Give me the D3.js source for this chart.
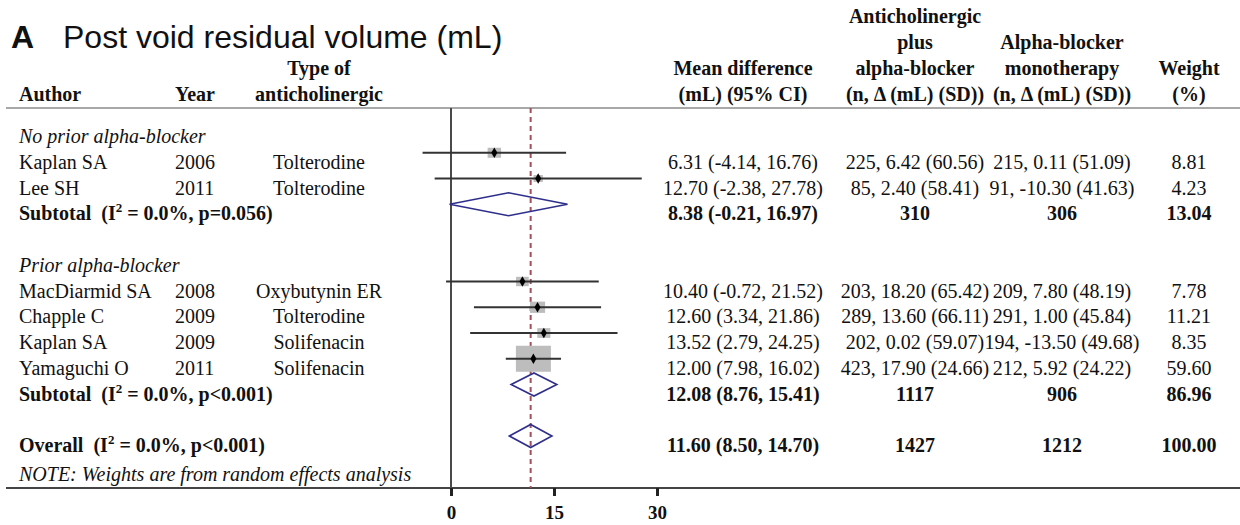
<!DOCTYPE html>
<html>
<head>
<meta charset="utf-8">
<script src="https://cdnjs.cloudflare.com/ajax/libs/d3/7.8.5/d3.min.js"></script>
<style>
  body { margin: 0; background: #fff; }
  svg text { font-family: "Liberation Serif", "Times New Roman", serif; fill: #111; white-space: pre; }
</style>
</head>
<body>
<svg id="chart" width="1240" height="525"></svg>
<script>
// individual studies
const authors = ["Kaplan SA", "Lee SH", "MacDiarmid SA", "Chapple C", "Kaplan SA", "Yamaguchi O"];
const years = [2006, 2011, 2008, 2009, 2009, 2011];
const drugs = ["Tolterodine", "Tolterodine", "Oxybutynin ER", "Tolterodine", "Solifenacin", "Solifenacin"];
const studyGroup = [0, 0, 1, 1, 1, 1];
const meanDiff = [6.31, 12.70, 10.40, 12.60, 13.52, 12.00];
const ciLow = [-4.14, -2.38, -0.72, 3.34, 2.79, 7.98];
const ciHigh = [16.76, 27.78, 21.52, 21.86, 24.25, 16.02];
const comboN = [225, 85, 203, 289, 202, 423];
const comboDelta = [6.42, 2.40, 18.20, 13.60, 0.02, 17.90];
const comboSD = [60.56, 58.41, 65.42, 66.11, 59.07, 24.66];
const monoN = [215, 91, 209, 291, 194, 212];
const monoDelta = [0.11, -10.30, 7.80, 1.00, -13.50, 5.92];
const monoSD = [51.09, 41.63, 48.19, 45.84, 49.68, 24.22];
const weights = [8.81, 4.23, 7.78, 11.21, 8.35, 59.60];

// subgroups and overall
const groupNames = ["No prior alpha-blocker", "Prior alpha-blocker"];
const poolLabels = ["Subtotal", "Subtotal", "Overall"];
const poolI2 = ["0.0%", "0.0%", "0.0%"];
const poolP = ["p=0.056", "p<0.001", "p<0.001"];
const poolMD = [8.38, 12.08, 11.60];
const poolLow = [-0.21, 8.76, 8.50];
const poolHigh = [16.97, 15.41, 14.70];
const poolComboN = [310, 1117, 1427];
const poolMonoN = [306, 906, 1212];
const poolWeight = [13.04, 86.96, 100.00];

const xTicks = [0, 15, 30];
const headerLines = [
  ["Author"],
  ["Year"],
  ["Type of", "anticholinergic"],
  ["Mean difference", "(mL) (95% CI)"],
  ["Anticholinergic", "plus", "alpha-blocker", "(n, \u0394 (mL) (SD))"],
  ["Alpha-blocker", "monotherapy", "(n, \u0394 (mL) (SD))"],
  ["Weight", "(%)"]
];
const note = "NOTE: Weights are from random effects analysis";

// layout
const colX = [19, 175, 319, 743, 915, 1062, 1189];
const colAnchor = ["start", "start", "middle", "middle", "middle", "middle", "middle"];
const headerY = 101, headerStep = 26;
const topLineY = 108, axisY = 488;

const svg = d3.select('#chart');
svg.append('rect').attr('width', 1240).attr('height', 525).attr('fill', '#fff');

const f2 = v => v.toFixed(2);

// rows: group label, studies, subtotal, blank ... overall
const rows = [];
groupNames.forEach((g, gi) => {
  rows.push({ type: 'group', label: g });
  authors.forEach((a, i) => { if (studyGroup[i] === gi) rows.push({ type: 'study', i }); });
  rows.push({ type: 'pool', i: gi });
  rows.push({ type: 'blank' });
});
rows.push({ type: 'pool', i: 2 });

const yRow = d3.scaleLinear().domain([0, rows.length - 1]).range([136, 445]);
const markOffset = -9;

const x = d3.scaleLinear().domain([0, 30]).range([451, 657]);
const boxW = d3.scaleSqrt().domain([0, 59.6]).range([0, 35]);
const boxH = d3.scaleSqrt().domain([0, 59.6]).range([0, 26]);

// title
svg.append('text').attr('x', 11).attr('y', 48)
  .style('font-family', '"Liberation Sans", Arial, sans-serif')
  .attr('font-size', 32).attr('font-weight', 'bold').text('A');
svg.append('text').attr('x', 63).attr('y', 48)
  .style('font-family', '"Liberation Sans", Arial, sans-serif')
  .attr('font-size', 32).text('Post void residual volume (mL)');

// headers
headerLines.forEach((lines, c) => {
  lines.forEach((ln, k) => {
    svg.append('text')
      .attr('x', colX[c]).attr('y', headerY - headerStep * (lines.length - 1 - k))
      .attr('text-anchor', colAnchor[c])
      .attr('font-size', 20).attr('font-weight', 'bold')
      .text(ln);
  });
});

// frame lines
svg.append('line').attr('x1', 6).attr('x2', 1240).attr('y1', topLineY).attr('y2', topLineY)
  .attr('stroke', '#a8a8a8').attr('stroke-width', 2);
svg.append('line').attr('x1', 6).attr('x2', 1240).attr('y1', axisY).attr('y2', axisY)
  .attr('stroke', '#444').attr('stroke-width', 2);

// null line
svg.append('line').attr('x1', x(0)).attr('x2', x(0)).attr('y1', topLineY).attr('y2', axisY)
  .attr('stroke', '#4a4a4a').attr('stroke-width', 2);

// overall effect dashed line
svg.append('line')
  .attr('x1', x(poolMD[2])).attr('x2', x(poolMD[2])).attr('y1', topLineY).attr('y2', axisY)
  .attr('stroke', '#a3505c').attr('stroke-width', 2).attr('stroke-dasharray', '5,4');

const plot = svg.append('g');

// table text + marks
rows.forEach((r, ri) => {
  const ty = yRow(ri) + 7;
  const my = yRow(ri) + markOffset;
  if (r.type === 'group') {
    svg.append('text').attr('x', colX[0]).attr('y', ty)
      .attr('font-size', 20).attr('font-style', 'italic').text(r.label);
  } else if (r.type === 'study') {
    const i = r.i;
    const cells = [authors[i], String(years[i]), drugs[i],
      `${f2(meanDiff[i])} (${f2(ciLow[i])}, ${f2(ciHigh[i])})`,
      `${comboN[i]}, ${f2(comboDelta[i])} (${f2(comboSD[i])})`,
      `${monoN[i]}, ${f2(monoDelta[i])} (${f2(monoSD[i])})`,
      f2(weights[i])];
    cells.forEach((t, c) => {
      svg.append('text').attr('x', colX[c]).attr('y', ty)
        .attr('text-anchor', colAnchor[c]).attr('font-size', 20).text(t);
    });
    const w = boxW(weights[i]), h = boxH(weights[i]);
    plot.append('rect')
      .attr('x', x(meanDiff[i]) - w / 2).attr('y', my - h / 2)
      .attr('width', w).attr('height', h).attr('fill', '#bdbdbd');
    plot.append('line')
      .attr('x1', x(ciLow[i])).attr('x2', x(ciHigh[i])).attr('y1', my).attr('y2', my)
      .attr('stroke', '#333').attr('stroke-width', 2);
    plot.append('path')
      .attr('transform', `translate(${x(meanDiff[i])},${my})`)
      .attr('d', d3.symbol(d3.symbolDiamond).size(32)())
      .attr('fill', '#000');
  } else if (r.type === 'pool') {
    const i = r.i;
    const lab = svg.append('text').attr('x', colX[0]).attr('y', ty)
      .attr('font-size', 20).attr('font-weight', 'bold');
    lab.append('tspan').text(`${poolLabels[i]}  (I`);
    lab.append('tspan').attr('dy', -8).attr('font-size', 13).text('2');
    lab.append('tspan').attr('dy', 8).text(` = ${poolI2[i]}, ${poolP[i]})`);
    const cells = [`${f2(poolMD[i])} (${f2(poolLow[i])}, ${f2(poolHigh[i])})`,
      String(poolComboN[i]), String(poolMonoN[i]), f2(poolWeight[i])];
    cells.forEach((t, k) => {
      const c = k + 3;
      svg.append('text').attr('x', colX[c]).attr('y', ty)
        .attr('text-anchor', colAnchor[c]).attr('font-size', 20)
        .attr('font-weight', 'bold').text(t);
    });
    const hh = 11.5;
    plot.append('path')
      .attr('d', `M${x(poolLow[i])},${my}L${x(poolMD[i])},${my - hh}L${x(poolHigh[i])},${my}L${x(poolMD[i])},${my + hh}Z`)
      .attr('fill', 'none').attr('stroke', '#2e2e8c').attr('stroke-width', 1.6);
  }
});

// note
svg.append('text').attr('x', colX[0]).attr('y', 481)
  .attr('font-size', 20).attr('font-style', 'italic').text(note);

// axis
const ax = svg.append('g').attr('transform', `translate(0,${axisY})`)
  .call(d3.axisBottom(x).tickValues(xTicks).tickSize(8).tickPadding(10));
ax.select('.domain').remove();
ax.selectAll('.tick line').attr('stroke', '#222').attr('stroke-width', 3);
ax.selectAll('.tick text')
  .style('font-family', '"Liberation Serif", serif')
  .attr('font-size', 19).attr('font-weight', 'bold').attr('fill', '#111');
</script>
</body>
</html>
